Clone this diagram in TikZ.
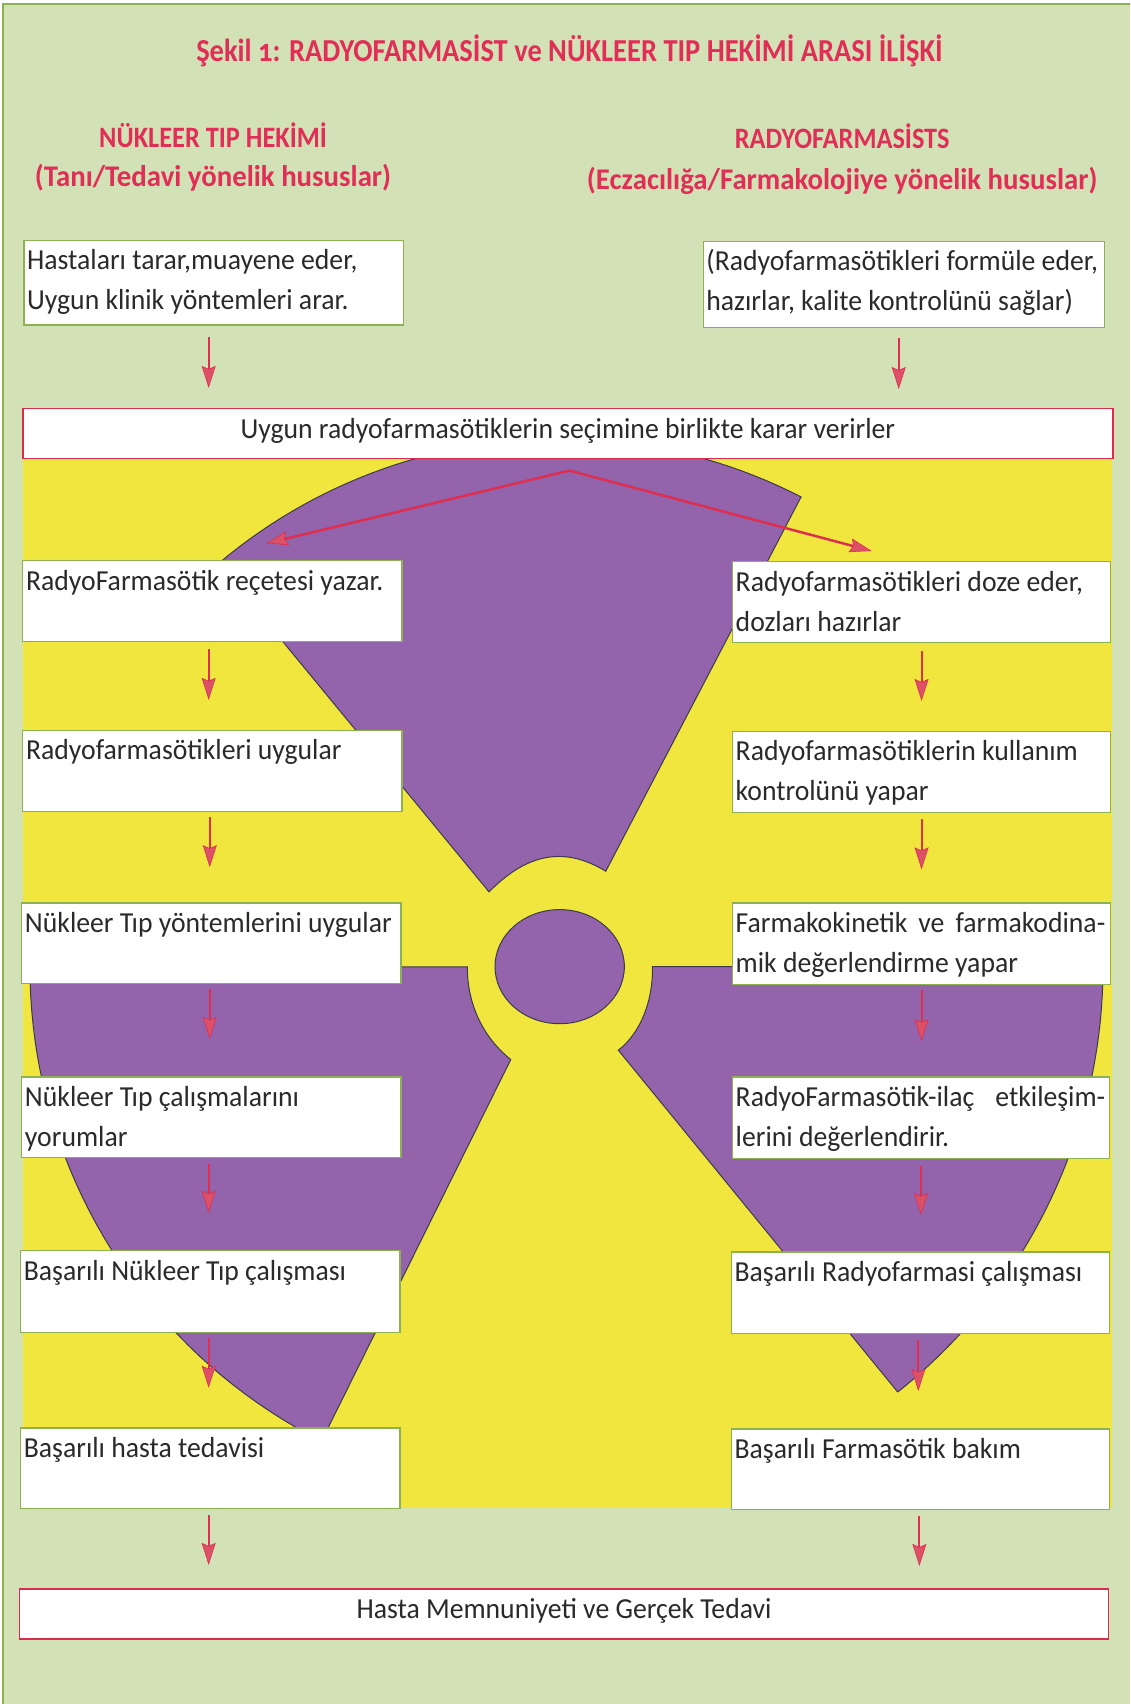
\documentclass[tikz,border=0pt]{standalone}
\usepackage{fontspec}
\setmainfont[FakeStretch=0.955]{Carlito}
\newfontfamily\headfont[Numbers=OldStyle,FakeStretch=0.89]{Carlito}
\newfontfamily\headlow[FakeStretch=0.96]{Carlito}
\usetikzlibrary{arrows.meta,calc}
\newlength\uu \setlength\uu{0.54327pt}
\definecolor{pagegreen}{HTML}{D3E2B6}
\definecolor{edgegreen}{HTML}{8CB052}
\definecolor{sunyellow}{HTML}{F0E63E}
\definecolor{violetfill}{HTML}{9363AB}
\definecolor{violetline}{HTML}{3F3A4A}
\definecolor{redline}{HTML}{DB2B4E}
\definecolor{arrowred}{HTML}{DE2F50}
\definecolor{headpink}{HTML}{DC5068}
\definecolor{headred}{HTML}{E12E57}
\definecolor{inkgrey}{HTML}{2A2A2A}
\tikzset{
  x=0.54327pt,y=-0.54327pt,
  gbox/.style={draw=edgegreen,fill=white,line width=0.6pt,inner sep=0pt,outer sep=0pt,anchor=north west,text=inkgrey},
  rbox/.style={gbox,draw=redline,line width=0.8pt},
  bodyfont/.style={font=\fontsize{14.5}{20.1}\selectfont},
  headbase/.style={text=headred,anchor=base,inner sep=0pt},
  headtitle/.style={headbase,font=\headfont\bfseries\fontsize{16}{18}\selectfont},
  headcaps/.style={headbase,font=\headfont\bfseries\fontsize{14.8}{18}\selectfont},
  headmixed/.style={headbase,font=\headlow\bfseries\fontsize{15}{18}\selectfont},
  arr/.style={draw=arrowred,line width=1.05pt,-{Stealth[length=11pt,width=7pt,inset=1.5pt,fill=headpink,line width=0.3pt]}},
  fanarr/.style={arr,line width=1.25pt},
  blade/.style={fill=violetfill,draw=violetline,line width=0.5pt,line join=miter},
}
% box: style, name, x, y, w, h, text (top-left, baseline 27 units under the top)
\newcommand\tbox[7]{\node[#1,bodyfont] (#2) at (#3,#4) {\parbox[c][#6\uu][t]{#5\uu}{\raggedright\hspace*{3\uu}\rule{0pt}{14.7pt}#7}};}
\newcommand\cbox[7]{\node[#1,bodyfont] (#2) at (#3,#4) {\parbox[c][#6\uu][t]{#5\uu}{\centering\rule{0pt}{14.7pt}#7}};}
\newcommand\strline[1]{\makebox[340\uu][s]{#1}}
\newcommand\arrow[5]{\draw[arr] ($(#1.south)+(#3,#4)$) -- ($(#1.south |- #2.north)+(#3,-#5)$);}
\newcommand\hhook{\\\hspace*{3\uu}}
\begin{document}
\begin{tikzpicture}
\useasboundingbox (0,0) rectangle (1040,1568);
\fill[white] (0,0) rectangle (1040,1568);
\fill[pagegreen] (3,4) rectangle (1040,1568);
\draw[edgegreen,line width=0.9pt] (3,1568) -- (3,4) -- (1040,4);
\fill[sunyellow] (21,422) rectangle (1023,1388);
% trefoil
\draw[blade] (450,820.7) -- (201,518.5) -- plot[domain=-130.2:-62.8,samples=50,variable=\t] ({515+486*cos(\t)},{889.5+486*sin(\t)}) -- (557.4,801.7) .. controls (525,782) and (490,780) .. cycle;
\draw[blade] (470,975) -- (295.5,1326.7) -- plot[domain=116.9:180,samples=40,variable=\t] ({517+489.5*cos(\t)},{889.5+489.5*sin(\t)}) -- (430,889.7) .. controls (430,925) and (445,955) .. cycle;
\draw[blade] (569,966.4) -- (825.3,1280) -- plot[domain=51.5:0,samples=50,variable=\t] ({515+500*cos(\t)},{889.5+500*sin(\t)}) -- (600.4,889.5) .. controls (601,920) and (590,950) .. cycle;
\draw[blade] (515,889.5) ellipse [x radius=59.5,y radius=52.5];
% boxes
\tbox{gbox}{La}{22}{221}{349}{78}{Hastaları tarar,muayene eder,\hhook Uygun klinik yöntemleri arar.}
\tbox{gbox}{Ra}{647}{222}{369}{79}{(Radyofarmasötikleri formüle eder,\hhook hazırlar, kalite kontrolünü sağlar)}
\cbox{rbox}{band}{21}{376}{1003}{46}{Uygun radyofarmasötiklerin seçimine birlikte karar verirler}
\tbox{gbox}{Lb}{21}{516}{349}{74}{RadyoFarmasötik reçetesi yazar.}
\tbox{gbox}{Lc}{21}{672}{349}{75}{Radyofarmasötikleri uygular}
\tbox{gbox}{Ld}{20}{831}{349}{74}{Nükleer Tıp yöntemlerini uygular}
\tbox{gbox}{Le}{20}{991}{349}{74}{Nükleer Tıp çalışmalarını\hhook yorumlar}
\tbox{gbox}{Lf}{19}{1151}{349}{75}{Başarılı Nükleer Tıp çalışması}
\tbox{gbox}{Lg}{19}{1314}{349}{74}{Başarılı hasta tedavisi}
\tbox{gbox}{Rb}{674}{517}{348}{74}{Radyofarmasötikleri doze eder,\hhook dozları hazırlar}
\tbox{gbox}{Rc}{674}{673}{348}{75}{Radyofarmasötiklerin kullanım\hhook kontrolünü yapar}
\tbox{gbox}{Rd}{674}{831}{348}{75}{\strline{Farmakokinetik ve farmakodina-}\hhook mik değerlendirme yapar}
\tbox{gbox}{Re}{674}{991}{347}{75}{\strline{RadyoFarmasötik-ilaç etkileşim-}\hhook lerini değerlendirir.}
\tbox{gbox}{Rf}{673}{1152}{348}{75}{Başarılı Radyofarmasi çalışması}
\tbox{gbox}{Rg}{673}{1315}{348}{74}{Başarılı Farmasötik bakım}
\cbox{rbox}{final}{18}{1462}{1002}{46}{Hasta Memnuniyeti ve Gerçek Tedavi}
% headings
\node[headtitle] (title) at (524,57) {Şekil 1: RADYOFARMASİST ve NÜKLEER TIP HEKİMİ ARASI İLİŞKİ};
\node[headcaps] (hl) at (196,136) {NÜKLEER TIP HEKİMİ};
\node[headmixed] (hlb) at (196,172) {(Tanı/Tedavi yönelik hususlar)};
\node[headcaps] (hr) at (775,137) {RADYOFARMASİSTS};
\node[headmixed] (hrb) at (775,174) {(Eczacılığa/Farmakolojiye yönelik hususlar)};
% arrows
\arrow{La}{band}{-4.5}{11}{19}
\arrow{Ra}{band}{-4.5}{10}{18}
\draw[fanarr] ($(band.south)+(1.5,11)$) -- ($(Lb.north)+(49.5,-16)$);
\draw[fanarr] ($(band.south)+(1.5,11)$) -- ($(Rb.north)+(-46,-10)$);
\arrow{Lb}{Lc}{-3.5}{7}{28}
\arrow{Lc}{Ld}{-2.5}{5}{33}
\arrow{Ld}{Le}{-1.5}{5}{35}
\arrow{Le}{Lf}{-2.5}{6}{35}
\arrow{Lf}{Lg}{-1.5}{5}{37}
\arrow{Lg}{final}{-1.5}{6}{22}
\arrow{Rb}{Rc}{0}{8}{28}
\arrow{Rc}{Rd}{0}{6}{31}
\arrow{Rd}{Re}{0}{5}{33}
\arrow{Re}{Rf}{0}{7}{34}
\arrow{Rf}{Rg}{-2}{6}{35}
\arrow{Rg}{final}{-1}{6}{21}
\end{tikzpicture}
\end{document}
